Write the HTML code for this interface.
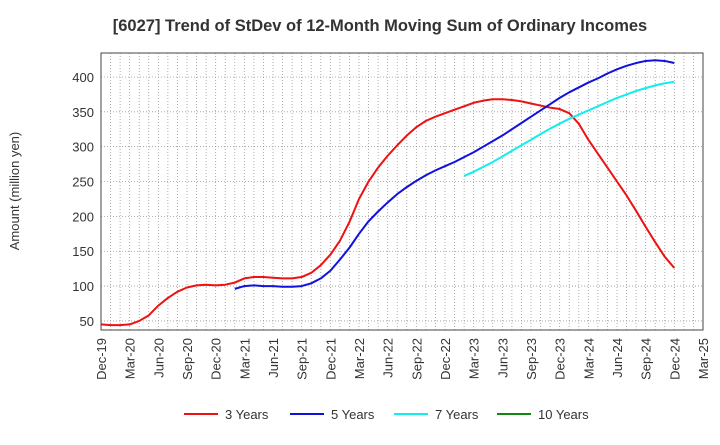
<!DOCTYPE html>
<html><head><meta charset="utf-8"><style>
body{margin:0;background:#fff;font-family:"Liberation Sans",sans-serif}
svg text{font-family:"Liberation Sans",sans-serif}
</style></head><body>
<svg id="chart" width="720" height="440" xmlns="http://www.w3.org/2000/svg">
<text x="380" y="31" text-anchor="middle" font-size="16.5" font-weight="bold" fill="#333">[6027]  Trend of StDev of 12-Month Moving Sum of Ordinary Incomes</text>
<text transform="translate(19,191) rotate(-90)" text-anchor="middle" font-size="13" fill="#333">Amount (million yen)</text>
<g id="grid"></g><g id="series"></g><g id="axes"></g>
<g id="legend"></g>
</svg>
<script>
const xLabels=["Dec-19","Mar-20","Jun-20","Sep-20","Dec-20","Mar-21","Jun-21","Sep-21","Dec-21","Mar-22","Jun-22","Sep-22","Dec-22","Mar-23","Jun-23","Sep-23","Dec-23","Mar-24","Jun-24","Sep-24","Dec-24","Mar-25"];
const yTicks=[50,100,150,200,250,300,350,400];
const seriesNames=["3 Years","5 Years","7 Years","10 Years"];
const seriesColors=["#ee1111","#1111dd","#11eeee","#118811"];
const startMonths=[0,14,38,0];
const red=[45,44,44,45,50,58,72,83,92,98,101,102,101,102,105,111,113,113,112,111,111,113,119,130,145,165,192,225,250,270,287,302,316,328,337,343,348,353,358,363,366,368,368,367,365,362,359,356,354,348,333,310,290,270,250,230,208,185,163,142,126];
const blue=[96,100,101,100,100,99,99,100,104,111,122,138,155,175,193,207,220,232,242,251,259,266,272,278,285,292,300,308,316,325,334,343,352,361,370,378,385,392,398,405,411,416,420,423,424,423,420];
const cyan=[258,264,271,278,286,294,302,310,318,326,333,340,346,352,358,364,370,375,380,384,388,391,393];
const green=[];
const L=101,R=703,T=53,B=330,yMin=37,yMax=434.4,months=63;
const X=m=>L+(R-L)*m/months, Y=v=>B-(B-T)*(v-yMin)/(yMax-yMin);
const NS="http://www.w3.org/2000/svg";
function mk(tag,attrs,parent){const e=document.createElementNS(NS,tag);for(const k in attrs)e.setAttribute(k,attrs[k]);parent.appendChild(e);return e;}
const grid=document.getElementById('grid'),axes=document.getElementById('axes'),ser=document.getElementById('series'),leg=document.getElementById('legend');
for(let m=1;m<months;m++){const l=mk('line',{x1:X(m),x2:X(m),y1:T,y2:B,stroke:'#999','stroke-width':0.8,'stroke-dasharray':'1,2'},grid);

}
yTicks.forEach(v=>{const l=mk('line',{x1:L,x2:R,y1:Y(v),y2:Y(v),stroke:'#999','stroke-width':0.8,'stroke-dasharray':'1,2'},grid);


const t=mk('text',{x:L-7,y:Y(v)+5,'text-anchor':'end','font-size':13,fill:'#333'},axes);t.textContent=v;

});
xLabels.forEach((s,i)=>{const x=X(i*3);const t=mk('text',{transform:`translate(${x+5},${B+8}) rotate(-90)`,'text-anchor':'end','font-size':13,fill:'#333'},axes);t.textContent=s;

});
const frame=mk('rect',{x:L,y:T,width:R-L,height:B-T,fill:'none',stroke:'#444','stroke-width':1},axes);


[red,blue,cyan,green].forEach((d,i)=>{if(!d.length)return;const p=mk('polyline',{points:d.map((v,j)=>X(startMonths[i]+j)+','+Y(v)).join(' '),fill:'none',stroke:seriesColors[i],'stroke-width':2,'stroke-linejoin':'round'},ser);

});
const lx=[184,290,394,497];
seriesNames.forEach((n,i)=>{const g=mk('g',{},leg);


mk('line',{x1:lx[i],x2:lx[i]+34,y1:414,y2:414,stroke:seriesColors[i],'stroke-width':2},g);
const t=mk('text',{x:lx[i]+41,y:419,'font-size':13,fill:'#333'},g);t.textContent=n;});
</script>
</body></html>
